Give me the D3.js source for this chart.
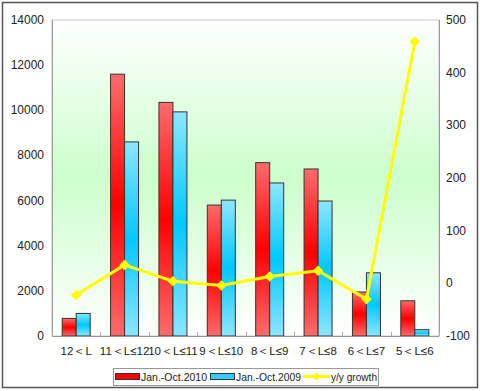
<!DOCTYPE html>
<html><head><meta charset="utf-8">
<script src="https://cdn.jsdelivr.net/npm/d3@7"></script>
<style>body{margin:0;background:#fff}svg{display:block}text{font-family:Arial,"Liberation Sans",sans-serif}</style>
</head><body>
<svg id="c" width="480" height="391"></svg>
<script>
const categories = ["12＜L","11＜L≤12","10＜L≤11","9＜L≤10","8＜L≤9","7＜L≤8","6＜L≤7","5＜L≤6"];
const sales2010 = [780, 11600, 10350, 5800, 7680, 7400, 1950, 1560];
const sales2009 = [1000, 8600, 9930, 6020, 6780, 5980, 2800, 280];
const growth = [-22, 35, 4, -4, 13, 24, -30, 459];
const leftTicks = [0,2000,4000,6000,8000,10000,12000,14000];
const rightTicks = [-100,0,100,200,300,400,500];
const seriesNames = ["Jan.-Oct.2010","Jan.-Oct.2009","y/y growth"];

const svg = d3.select("#c");
const L=52, R=439, T=20, B=336;
const defs = svg.append("defs");
const bg = defs.append("linearGradient").attr("id","bg").attr("x1",0).attr("y1",0).attr("x2",0).attr("y2",1);
bg.append("stop").attr("offset","0%").attr("stop-color","#ffffff");
bg.append("stop").attr("offset","50%").attr("stop-color","#ccffcc");
bg.append("stop").attr("offset","100%").attr("stop-color","#ffffff");
function barGrad(id, light, dark){
  const g = defs.append("linearGradient").attr("id",id).attr("x1",0).attr("y1",0).attr("x2",0).attr("y2",1);
  g.append("stop").attr("offset","0%").attr("stop-color",light);
  g.append("stop").attr("offset","50%").attr("stop-color",dark);
  g.append("stop").attr("offset","100%").attr("stop-color",light);
}
barGrad("gr","#ff6b6b","#ff0000");
barGrad("gb","#8de6ff","#00c8ff");

svg.append("rect").attr("x",2.5).attr("y",2.5).attr("width",475).attr("height",385).attr("fill","#fff").attr("stroke","#555").attr("stroke-width",1.5);

const x = d3.scaleBand().domain(categories).range([L,R]);
const yL = d3.scaleLinear().domain([0,14000]).range([B,T]);
const yR = d3.scaleLinear().domain([-100,500]).range([B,T]);

svg.append("rect").attr("x",L).attr("y",T).attr("width",R-L).attr("height",B-T).attr("fill","url(#bg)").attr("stroke","#c8c8c8");

const bw = 14;
const gBars = svg.append("g");
gBars.selectAll(".r").data(categories).join("rect")
  .attr("x",d=>x(d)+x.bandwidth()/2-bw).attr("y",(d,i)=>yL(sales2010[i]))
  .attr("width",bw).attr("height",(d,i)=>B-yL(sales2010[i]))
  .attr("fill","url(#gr)").attr("stroke","#333").attr("stroke-width",1);
gBars.selectAll(".b").data(categories).join("rect")
  .attr("x",d=>x(d)+x.bandwidth()/2).attr("y",(d,i)=>yL(sales2009[i]))
  .attr("width",bw).attr("height",(d,i)=>B-yL(sales2009[i]))
  .attr("fill","url(#gb)").attr("stroke","#333").attr("stroke-width",1);

svg.append("line").attr("x1",L).attr("x2",R).attr("y1",B+0.5).attr("y2",B+0.5).attr("stroke","#999");
svg.append("line").attr("x1",L+0.5).attr("x2",L+0.5).attr("y1",T).attr("y2",B).attr("stroke","#999");
svg.append("line").attr("x1",R+0.5).attr("x2",R+0.5).attr("y1",T).attr("y2",B).attr("stroke","#999");
const bounds = categories.map(c=>x(c)).concat([R]);
svg.selectAll(".ct").data(bounds).join("line")
  .attr("x1",d=>Math.round(d)+0.5).attr("x2",d=>Math.round(d)+0.5).attr("y1",B-4).attr("y2",B).attr("stroke","#aaa");

svg.selectAll(".lt").data(leftTicks).join("text")
  .attr("x",44).attr("y",d=>yL(d)+4).attr("text-anchor","end").attr("font-size",12).attr("fill","#222").text(d=>d);
svg.selectAll(".rt").data(rightTicks).join("text")
  .attr("x",446).attr("y",d=>yR(d)+4).attr("text-anchor","start").attr("font-size",12).attr("fill","#222").text(d=>d);
svg.selectAll(".cl").data(categories).join("text")
  .attr("x",d=>x(d)+x.bandwidth()/2).attr("y",355).attr("text-anchor","middle").attr("font-size",11.5)
  .attr("font-family","'Noto Sans CJK SC',sans-serif").attr("fill","#222").text(d=>d);

const line = d3.line().x((d,i)=>x(categories[i])+x.bandwidth()/2).y(d=>yR(d));
svg.append("path").datum(growth).attr("d",line).attr("fill","none").attr("stroke","#ffff00").attr("stroke-width",3);
svg.selectAll(".m").data(growth).join("path")
  .attr("d",d3.symbol().type(d3.symbolSquare).size(55))
  .attr("transform",(d,i)=>`translate(${x(categories[i])+x.bandwidth()/2},${yR(d)}) rotate(45)`)
  .attr("fill","#ffff00");

const lg = svg.append("g");
lg.append("rect").attr("x",113.5).attr("y",368.5).attr("width",265).attr("height",17).attr("fill","#fff").attr("stroke","#999");
lg.append("rect").attr("x",115.5).attr("y",373.5).attr("width",24).attr("height",6).attr("fill","#ff0000").attr("stroke","#333");
lg.append("text").attr("x",141).attr("y",381).attr("font-size",11).attr("textLength",66).attr("lengthAdjust","spacingAndGlyphs").attr("fill","#222").text(seriesNames[0]);
lg.append("rect").attr("x",210.5).attr("y",373.5).attr("width",24).attr("height",6).attr("fill","#33ccff").attr("stroke","#333");
lg.append("text").attr("x",236).attr("y",381).attr("font-size",11).attr("textLength",65).attr("lengthAdjust","spacingAndGlyphs").attr("fill","#222").text(seriesNames[1]);
lg.append("line").attr("x1",303).attr("x2",330).attr("y1",376.5).attr("y2",376.5).attr("stroke","#ffff00").attr("stroke-width",3);
lg.append("path").attr("d",d3.symbol().type(d3.symbolSquare).size(30)).attr("transform","translate(316.5,376.5) rotate(45)").attr("fill","#ffff00");
lg.append("text").attr("x",331).attr("y",381).attr("font-size",11).attr("textLength",46).attr("lengthAdjust","spacingAndGlyphs").attr("fill","#222").text(seriesNames[2]);
</script>
</body></html>
